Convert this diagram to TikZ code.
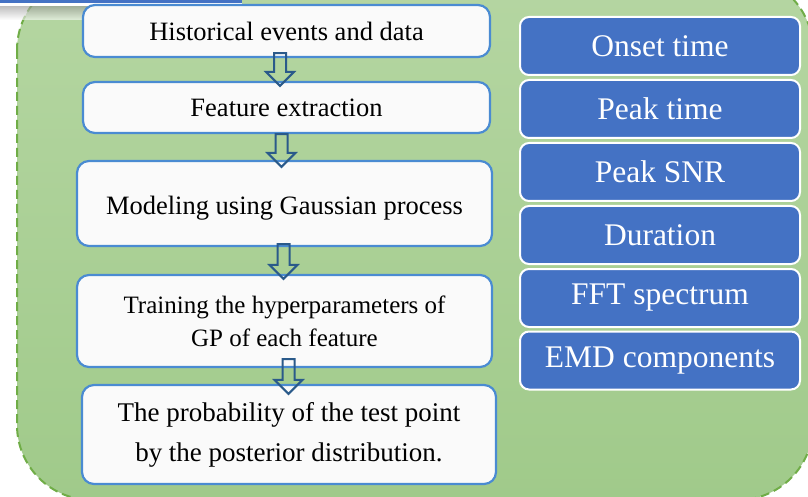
\documentclass[tikz,border=0pt]{standalone}
\usepackage{fontspec}
\setmainfont{Liberation Serif}
\usetikzlibrary{calc}
\definecolor{grnTop}{HTML}{B5D6A2}
\definecolor{grnBot}{HTML}{A0CA8A}
\definecolor{grnLine}{HTML}{70AD47}
\definecolor{boxLine}{HTML}{4A8BD2}
\definecolor{boxFill}{HTML}{FAFAFA}
\definecolor{featFill}{HTML}{4472C4}
\definecolor{arrLine}{HTML}{2A5A8A}
\tikzset{
  stepbox/.style={draw=boxLine, line width=2.2pt, fill=boxFill, rounded corners=12pt,
    align=center, font=\fontsize{26.5}{33}\selectfont, inner sep=0pt},
  featbox/.style={draw=white, line width=2pt, fill=featFill, rounded corners=9pt,
    minimum width=280pt, minimum height=58pt, inner sep=0pt, text=white,
    font=\fontsize{31.5}{36}\selectfont},
  blk/.style={draw=arrLine, line width=2pt, fill=none, line join=miter}
}
\newcommand\blockarrow[2]{%
  \draw[blk] let \p1=(#1), \p2=(#2) in
    (\x1-6pt,\y1) -- (\x1+6pt,\y1) -- (\x1+6pt,\y2+14pt) -- (\x1+14pt,\y2+14pt)
    -- (\x1,\y2) -- (\x1-14pt,\y2+14pt) -- (\x1-6pt,\y2+14pt) -- cycle;}
\begin{document}
\begin{tikzpicture}[x=1pt,y=-1pt]
\useasboundingbox (0,0) rectangle (808,497);
\clip (0,0) rectangle (808,497);
\fill[white] (0,0) rectangle (808,497);
% green background panel
\shade[top color=grnTop, bottom color=grnBot, rounded corners=75pt] (17,-25) rectangle (813,500);
\draw[grnLine, dash pattern=on 9pt off 5pt, line width=2pt, rounded corners=75pt] (17,-25) rectangle (813,500);
% top banner with shadow
\shade[top color=black!45, bottom color=black!0, opacity=0.6] (0,5) rectangle (245,20);
\fill[white] (0,3.5) rectangle (242,6);
\fill[featFill] (0,0) rectangle (242,3.5);
% process steps
\node[stepbox, minimum width=407pt, minimum height=52pt] (b1) at (286.5,31) {Historical events and data};
\node[stepbox, minimum width=407pt, minimum height=51pt] (b2) at (286.5,107.5) {Feature extraction};
\node[stepbox, minimum width=415pt, minimum height=85pt, text height=27pt] (b3) at (284.5,203.5) {Modeling using Gaussian process};
\node[stepbox, minimum width=415pt, minimum height=92pt, font=\fontsize{25}{33}\selectfont] (b4) at (284.5,321) {Training the hyperparameters of\\GP of each feature};
\node[stepbox, minimum width=414pt, minimum height=99pt, font=\fontsize{27}{40}\selectfont] (b5) at (289,434.5) {The probability of the test point\\by the posterior distribution.};
% hollow block arrows
\coordinate (a1s) at ($(b1.south)+(-6.5,-5)$);
\coordinate (a1e) at ($(b2.north)+(-6.5,5)$);
\coordinate (a2s) at ($(b2.south)+(-5,0)$);
\coordinate (a2e) at ($(b3.north)+(-5,7)$);
\coordinate (a3s) at ($(b3.south)+(-1,-3)$);
\coordinate (a3e) at ($(b4.north)+(-1,5)$);
\coordinate (a4s) at ($(b4.south)+(4,-9)$);
\coordinate (a4e) at ($(b5.north)+(-0.5,10)$);
\blockarrow{a1s}{a1e}
\blockarrow{a2s}{a2e}
\blockarrow{a3s}{a3e}
\blockarrow{a4s}{a4e}
% features
\node[featbox] (f1) at (660,46) {Onset time};
\node[featbox] (f2) at (660,109) {Peak time};
\node[featbox] (f3) at (660,172) {Peak SNR};
\node[featbox] (f4) at (660,235) {Duration};
\node[featbox] (f5) at (660,298) {FFT spectrum};
\node[featbox] (f6) at (660,360.5) {EMD components};
\end{tikzpicture}
\end{document}
